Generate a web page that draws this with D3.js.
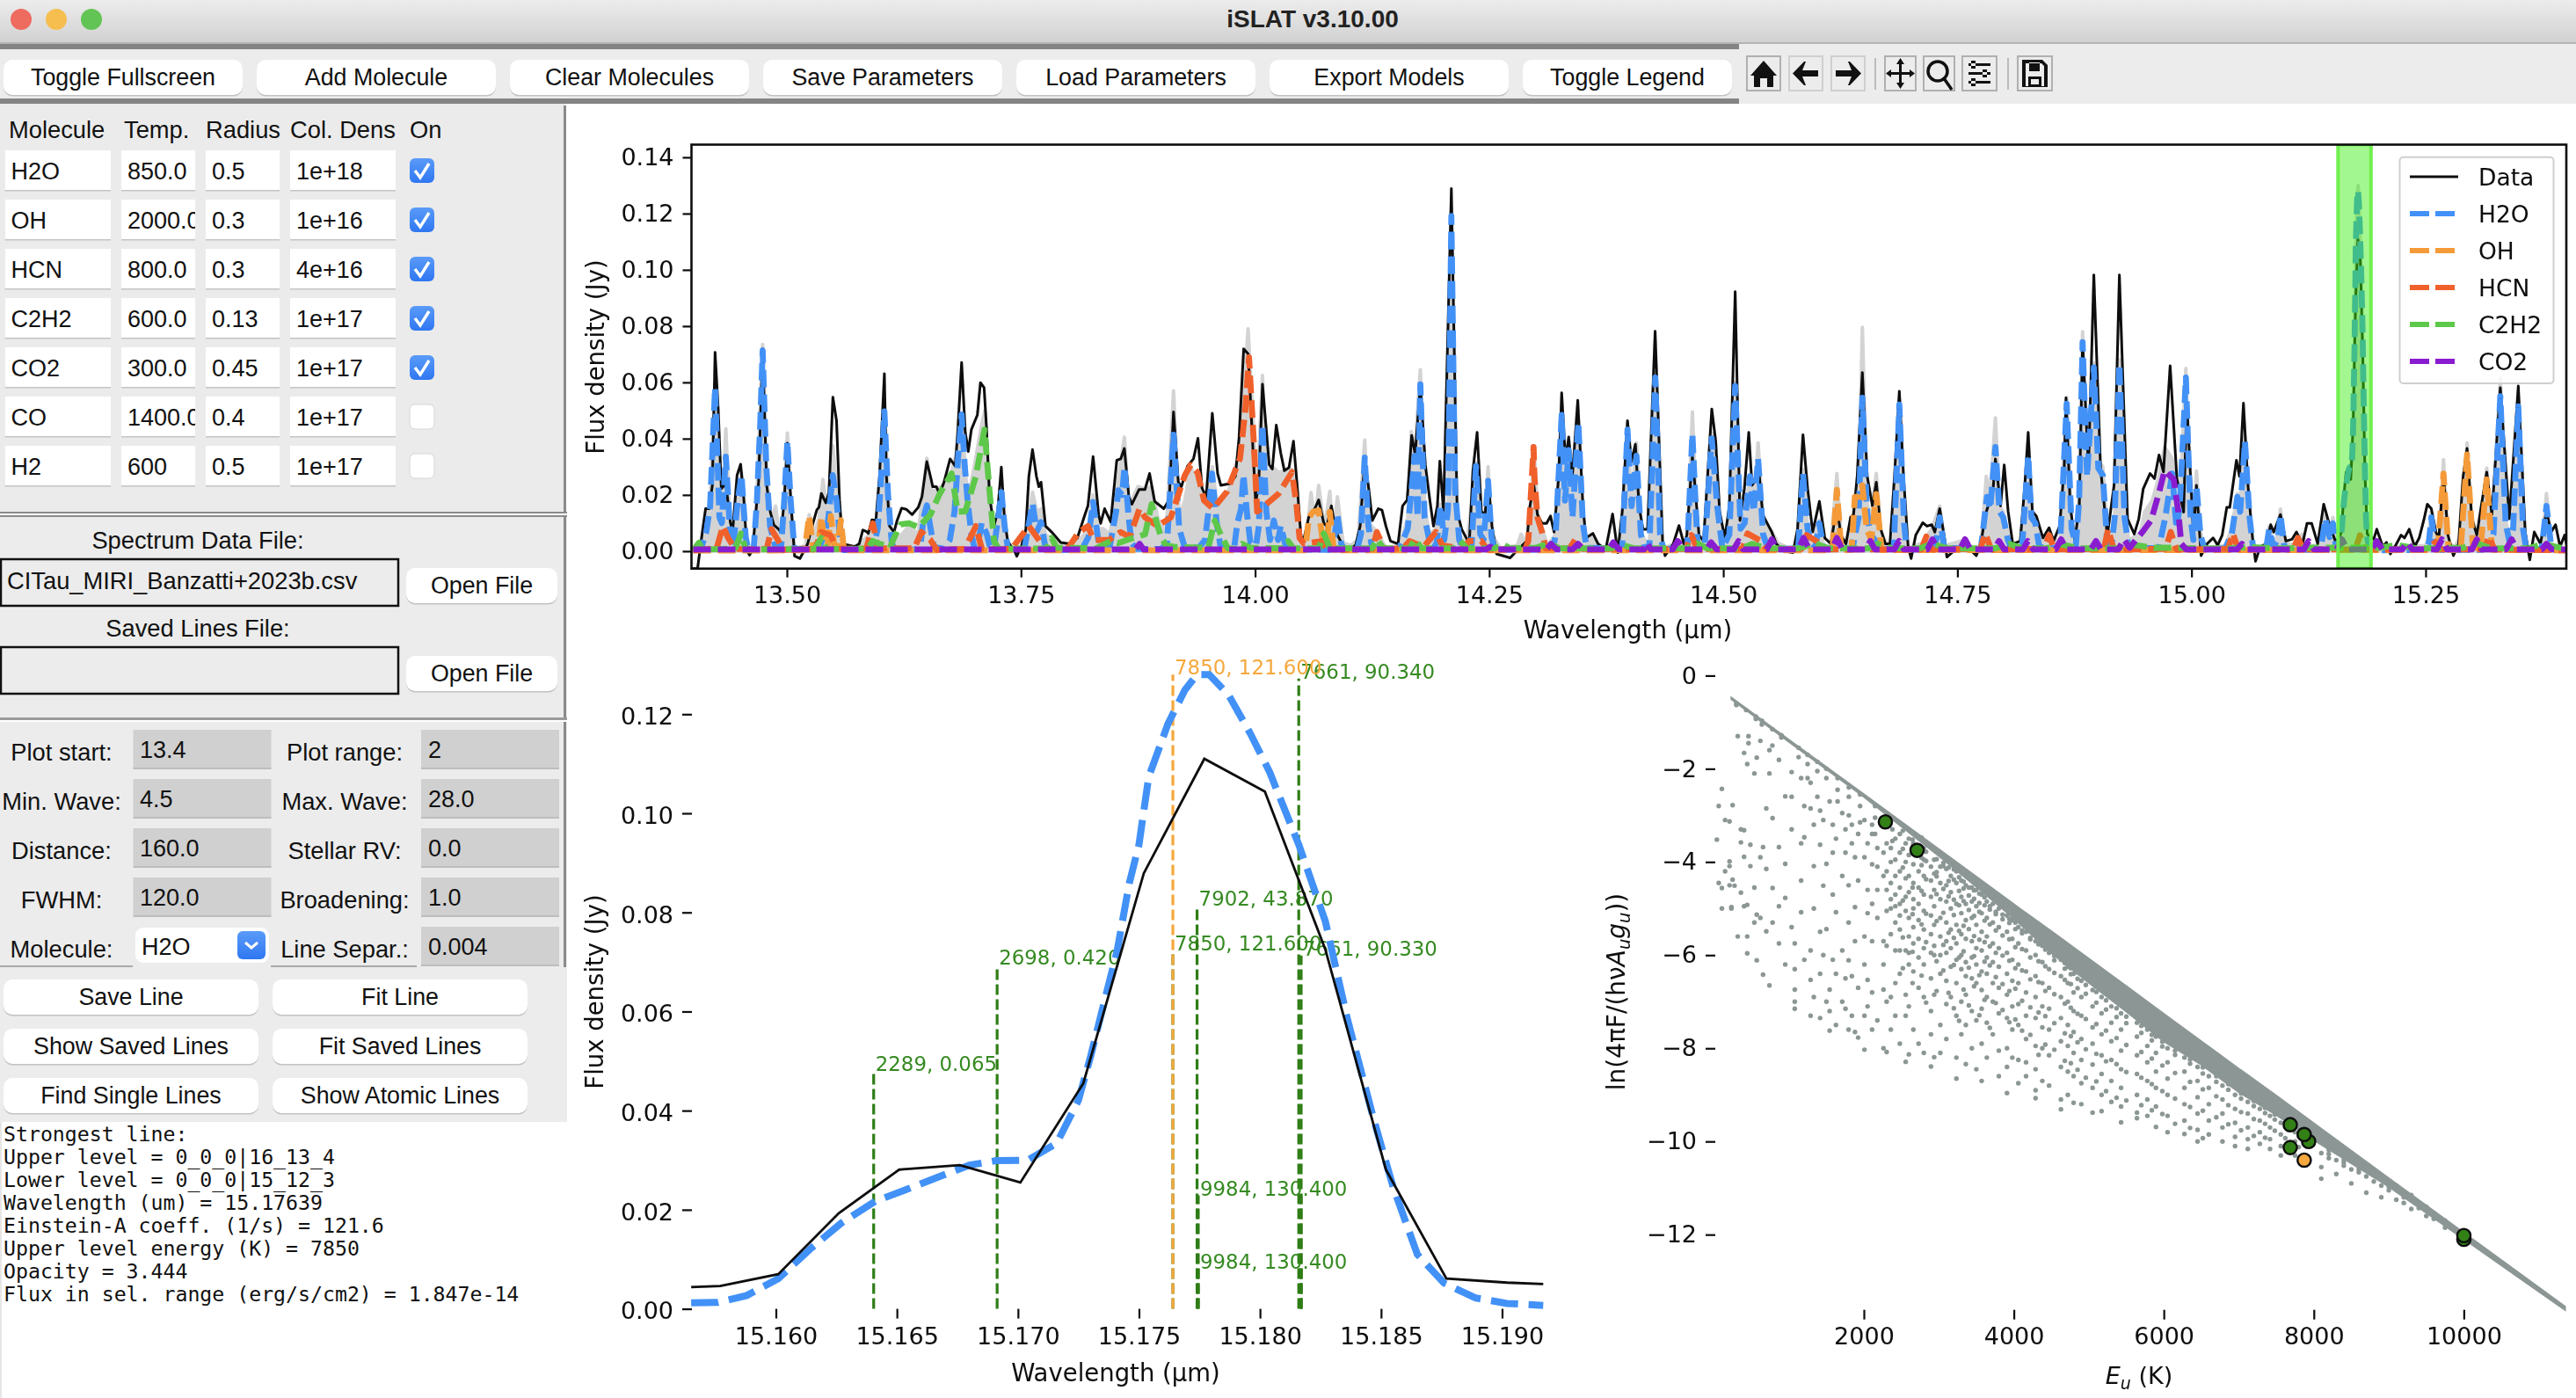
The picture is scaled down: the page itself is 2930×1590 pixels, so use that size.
<!DOCTYPE html>
<html>
<head>
<meta charset="utf-8">
<title>iSLAT v3.10.00</title>
<script src="https://cdn.jsdelivr.net/npm/d3@7"></script>
<style>
html,body{margin:0;padding:0;background:#fff;overflow:hidden}
svg{display:block}
text{white-space:pre}
</style>
</head>
<body>
<svg id="chart"></svg>
<script>
// ---------------------------- values -----------------------------------------------------------

const moleculeRows = [
  ["H2O","850.0","0.5","1e+18",true],
  ["OH","2000.0","0.3","1e+16",true],
  ["HCN","800.0","0.3","4e+16",true],
  ["C2H2","600.0","0.13","1e+17",true],
  ["CO2","300.0","0.45","1e+17",true],
  ["CO","1400.0","0.4","1e+17",false],
  ["H2","600","0.5","1e+17",false]
];
const topButtons = ["Toggle Fullscreen","Add Molecule","Clear Molecules","Save Parameters","Load Parameters","Export Models","Toggle Legend"];
const paramRows = [
  ["Plot start:","13.4","Plot range:","2"],
  ["Min. Wave:","4.5","Max. Wave:","28.0"],
  ["Distance:","160.0","Stellar RV:","0.0"],
  ["FWHM:","120.0","Broadening:","1.0"],
  ["Molecule:","H2O","Line Separ.:","0.004"]
];
const lineButtons = [["Save Line","Fit Line"],["Show Saved Lines","Fit Saved Lines"],["Find Single Lines","Show Atomic Lines"]];
const consoleLines = [
  "Strongest line:",
  "Upper level = 0_0_0|16_13_4",
  "Lower level = 0_0_0|15_12_3",
  "Wavelength (um) = 15.17639",
  "Einstein-A coeff. (1/s) = 121.6",
  "Upper level energy (K) = 7850",
  "Opacity = 3.444",
  "Flux in sel. range (erg/s/cm2) = 1.847e-14"
];

const spectrumXTicks = [13.5,13.75,14,14.25,14.5,14.75,15,15.25];
const spectrumYTicks = [0,0.02,0.04,0.06,0.08,0.1,0.12,0.14];
const zoomXTicks = [15.16,15.165,15.17,15.175,15.18,15.185,15.19];
const zoomYTicks = [0,0.02,0.04,0.06,0.08,0.1,0.12];
const popXTicks = [2000,4000,6000,8000,10000];
const popYTicks = [0,-2,-4,-6,-8,-10,-12];

const selectedRange = [15.1565,15.1917];

// selected range, the lower left plot
const zoomData = [[15.1565,.0044],[15.1577,.0046],[15.1601,.0070],[15.1626,.0193],[15.1651,.0281],[15.1676,.0290],[15.1701,.0255],[15.1727,.0455],[15.1752,.0879],[15.1777,.1110],[15.1802,.1044],[15.1827,.0725],[15.1852,.0281],[15.1877,.0061],[15.1902,.0053],[15.1917,.0050]];
const zoomModel = [[15.1565,.0012],[15.1576,.0013],[15.1588,.0027],[15.1601,.0061],[15.1614,.0120],[15.1627,.0173],[15.1641,.0217],[15.1654,.0241],[15.1667,.0266],[15.1680,.0290],[15.1691,.0299],[15.1704,.0300],[15.1716,.0334],[15.1725,.0421],[15.1730,.0509],[15.1736,.0626],[15.1741,.0723],[15.1746,.0859],[15.1750,.0937],[15.1754,.1073],[15.1762,.1181],[15.1769,.1249],[15.1774,.1280],[15.1779,.1280],[15.1787,.1239],[15.1796,.1161],[15.1804,.1083],[15.1816,.0937],[15.1827,.0782],[15.1836,.0587],[15.1847,.0382],[15.1855,.0246],[15.1865,.0110],[15.1876,.0052],[15.1889,.0022],[15.1902,.0011],[15.1917,.0007]];

// full spectrum, wavelength and flux density pairs
const dataLine = [[13.3988,-.0062],[13.4046,-.0062],[13.4094,.0061],[13.4132,.0151],[13.417,.0151],[13.4204,.0234],[13.4233,.0707],[13.4266,.0509],[13.43,.0222],[13.4348,.024],[13.4396,.0103],[13.442,.0067],[13.4468,.027],[13.4506,.0309],[13.454,.0187],[13.4573,.0001],[13.4602,-.0014],[13.4635,.0007],[13.4669,.0139],[13.4698,.0246],[13.4741,.0719],[13.4784,.0234],[13.4823,.0139],[13.4861,.0093],[13.4909,.0079],[13.4938,.0067],[13.4971,.0175],[13.5005,.0384],[13.5043,.0175],[13.5082,-.0017],[13.5139,-.0026],[13.5173,-.0005],[13.5222,.0026],[13.527,.0089],[13.5319,.0146],[13.5342,.0156],[13.5368,.0205],[13.5416,.0172],[13.5449,.0208],[13.5491,.0547],[13.553,.0464],[13.5562,.0182],[13.5594,.0026],[13.5724,.0016],[13.5772,.0026],[13.5811,.0075],[13.5847,.007],[13.587,.0063],[13.5908,.0111],[13.595,.0109],[13.5989,.0266],[13.6041,.0631],[13.6063,.0266],[13.6096,.0089],[13.6144,.0068],[13.6177,.0109],[13.6225,.0153],[13.6274,.0149],[13.6338,.013],[13.6403,.0156],[13.6442,.0193],[13.6494,.0318],[13.6533,.0266],[13.6558,.0229],[13.6597,.0229],[13.663,.0203],[13.6678,.0245],[13.6743,.0328],[13.6798,.0302],[13.6824,.0422],[13.6866,.0671],[13.6905,.0422],[13.6937,.0354],[13.697,.0432],[13.7034,.0484],[13.7067,.0599],[13.7106,.0581],[13.7131,.0443],[13.7164,.0193],[13.7212,.0089],[13.7251,.0141],[13.729,.0299],[13.7325,.0109],[13.7358,.0036],[13.7439,-.0005],[13.7455,-.0018],[13.7503,.0016],[13.7552,.0078],[13.7584,.0266],[13.7623,.0361],[13.7665,.0266],[13.7691,.0229],[13.7714,.0245],[13.7762,.0089],[13.7827,.0068],[13.7924,.0031],[13.8021,.0026],[13.8102,.0047],[13.8183,.013],[13.8215,.0161],[13.827,.0336],[13.8329,.013],[13.8351,.0099],[13.8393,.0151],[13.8458,.0104],[13.8523,.0323],[13.8565,.0328],[13.8604,.0365],[13.8652,.0193],[13.8685,.0167],[13.876,.0219],[13.8824,.0219],[13.8873,.0276],[13.8927,.0177],[13.9025,.0151],[13.9083,.0182],[13.9129,.0495],[13.918,.0245],[13.9213,.0229],[13.9278,.0302],[13.9342,.0328],[13.939,.0401],[13.9433,.0224],[13.9478,.0193],[13.9543,.049],[13.96,.0276],[13.9634,.0234],[13.9731,.024],[13.9789,.0266],[13.9828,.0401],[13.9878,.0719],[13.9926,.0701],[14.0006,.0172],[14.0038,.0234],[14.0079,.0593],[14.0151,.0307],[14.0184,.0292],[14.0226,.0448],[14.0274,.0349],[14.0313,.0286],[14.0362,.0297],[14.041,.0391],[14.0449,.0234],[14.0491,.0047],[14.0524,.0047],[14.0572,.012],[14.0637,.0151],[14.0679,.0182],[14.0734,.0099],[14.0766,.0089],[14.0815,.0161],[14.0863,.0068],[14.0928,.0026],[14.0993,.0005],[14.1074,.0021],[14.1122,.0089],[14.1171,.0328],[14.1213,.0224],[14.1252,.0109],[14.1316,.0151],[14.1355,.0146],[14.1397,.0089],[14.1446,.0036],[14.1527,.0026],[14.1575,.0161],[14.1624,.0182],[14.1672,.0411],[14.171,.0344],[14.1765,.0593],[14.1818,.0307],[14.1866,.0182],[14.1905,.0089],[14.1947,.0161],[14.1973,.032],[14.2012,.0141],[14.2096,.1289],[14.2158,.0141],[14.2206,.0078],[14.2287,.0026],[14.2326,.0286],[14.2371,.0422],[14.2417,.0141],[14.2456,.013],[14.2488,.0255],[14.253,.0089],[14.2579,-.001],[14.2643,-.0016],[14.2724,-.0024],[14.2805,.0005],[14.2902,.0036],[14.2935,.0161],[14.2977,.0234],[14.3015,.013],[14.3064,.0099],[14.3113,.0099],[14.3155,.0125],[14.3193,.0068],[14.3242,.0266],[14.3274,.0563],[14.3316,.0318],[14.3349,.0406],[14.3388,.0266],[14.3446,.0536],[14.3501,.0161],[14.3533,.0047],[14.3608,.0063],[14.3663,.0026],[14.3744,.0005],[14.3818,.0132],[14.3873,-.0005],[14.3921,.0141],[14.3977,.0464],[14.4019,.0318],[14.4061,.038],[14.41,.0161],[14.4142,.0078],[14.4191,.0078],[14.4272,.0782],[14.4353,.0026],[14.4378,-.0016],[14.4466,.0026],[14.4527,.0091],[14.4579,.0026],[14.4611,.0057],[14.467,.0339],[14.4741,.0057],[14.4789,.0036],[14.4832,.0266],[14.4877,.0505],[14.4919,.0391],[14.4961,.0141],[14.5016,.0047],[14.5065,.0161],[14.5127,.0922],[14.5178,.0109],[14.5226,.0224],[14.5272,.0422],[14.5307,.0234],[14.533,.0245],[14.5372,.0318],[14.5421,.013],[14.5469,.0099],[14.5518,.0068],[14.5566,.0026],[14.5647,0],[14.5744,-.0005],[14.5793,.0078],[14.5851,.0414],[14.59,.0224],[14.5955,.0068],[14.6026,.0177],[14.6084,.0047],[14.6149,.0026],[14.6213,.0161],[14.6255,.0057],[14.631,.0026],[14.6359,.012],[14.6391,.013],[14.643,.0266],[14.6485,.0635],[14.6537,.0266],[14.6592,.0161],[14.6634,.0245],[14.6682,.0078],[14.6731,.0026],[14.678,.0026],[14.6828,.0266],[14.688,.0568],[14.6925,.0266],[14.6974,.0016],[14.7006,-.0026],[14.7055,.0057],[14.713,.0101],[14.7175,.0089],[14.7226,.0094],[14.7259,.0068],[14.7311,.0151],[14.7362,.0047],[14.7388,-.0021],[14.7459,0],[14.7556,.0016],[14.7653,0],[14.7702,-.0016],[14.7751,.0026],[14.7799,.013],[14.788,.0214],[14.7906,.0328],[14.7961,.0161],[14.8,.0307],[14.8042,.0141],[14.8091,.0026],[14.8171,.0036],[14.822,.0234],[14.8256,.0422],[14.8301,.0141],[14.8343,.0125],[14.8414,.0047],[14.8479,.0083],[14.8527,.0036],[14.8592,.0089],[14.8641,.0297],[14.866,.0545],[14.8705,.0161],[14.8754,.0036],[14.8802,.0161],[14.8837,.0743],[14.89,.0294],[14.8957,.0982],[14.9029,.0294],[14.9101,.0055],[14.9173,.0234],[14.923,.0982],[14.9317,.0115],[14.9389,.0061],[14.9437,.0115],[14.9485,.0222],[14.9557,.0276],[14.9605,.0258],[14.9653,.0342],[14.9701,.0282],[14.9772,.0659],[14.9844,.0258],[14.9916,.0139],[14.995,.053],[15.0022,.0055],[15.0053,.0234],[15.0102,-.0016],[15.0166,.0026],[15.0231,.0047],[15.028,.0021],[15.0328,.0057],[15.0377,.0156],[15.0409,.0156],[15.048,.0323],[15.0513,.0266],[15.0555,.0526],[15.0603,.0234],[15.0652,.0047],[15.0684,-.0036],[15.0733,.0016],[15.0798,.0026],[15.0846,.0094],[15.0878,.0068],[15.095,.013],[15.1008,.0036],[15.1073,.0042],[15.1121,.0068],[15.1186,.0026],[15.1234,.0099],[15.1283,.0099],[15.1348,.0026],[15.1412,.0167],[15.1477,.0089],[15.1542,.0031],...zoomData,[15.1946,.0042],[15.1979,.0078],[15.2043,.0016],[15.2082,.0031],[15.2124,-.001],[15.2173,.0016],[15.2238,.0057],[15.2275,.0047],[15.2325,.0078],[15.2383,.0016],[15.2432,.0047],[15.248,.0109],[15.2519,.0167],[15.2561,.0151],[15.261,.0068],[15.2642,.0047],[15.2691,.0276],[15.2739,.0057],[15.2797,-.0016],[15.2852,.0026],[15.2901,.0266],[15.2943,.0365],[15.2992,.012],[15.3047,.0057],[15.3095,.0161],[15.3153,.0281],[15.3208,.013],[15.3298,.0581],[15.3394,.0115],[15.349,.0587],[15.3564,.0068],[15.3613,-.0031],[15.3661,.0068],[15.3726,.0026],[15.3791,.0141],[15.384,.0068],[15.3888,.0094],[15.3936,.0016],[15.3985,.0057],[15.401,.0016]];

const totalLine = [[13.398,.0005],[13.408,.003],[13.414,.01],[13.418,.018],[13.4233,.06],[13.428,.014],[13.431,.014],[13.4348,.0435],[13.4395,.007],[13.443,.006],[13.4475,.018],[13.4515,.028],[13.456,.005],[13.46,.001],[13.465,.002],[13.468,.02],[13.4741,.0735],[13.478,.032],[13.482,.012],[13.485,.013],[13.488,.016],[13.492,.005],[13.495,.004],[13.5005,.042],[13.504,.018],[13.508,.001],[13.52,.002],[13.5238,.013],[13.529,.006],[13.5345,.012],[13.5385,.0255],[13.543,.013],[13.549,.0375],[13.553,.022],[13.5575,.012],[13.561,.001],[13.575,.002],[13.592,.007],[13.597,.01],[13.6,.022],[13.6041,.053],[13.608,.022],[13.612,.006],[13.618,.004],[13.6305,.009],[13.64,.006],[13.6495,.033],[13.655,.021],[13.665,.023],[13.6759,.0285],[13.682,.036],[13.6866,.049],[13.69,.032],[13.693,.018],[13.7,.03],[13.708,.045],[13.7115,.05],[13.716,.024],[13.7215,.004],[13.726,.013],[13.7291,.022],[13.7325,.009],[13.737,.0012],[13.753,.0015],[13.757,.009],[13.7623,.021],[13.767,.014],[13.7714,.015],[13.776,.006],[13.785,.0035],[13.8,.002],[13.815,.005],[13.822,.008],[13.827,.02],[13.8325,.008],[13.838,.008],[13.845,.006],[13.8515,.02],[13.8604,.0405],[13.865,.016],[13.875,.023],[13.883,.022],[13.8895,.023],[13.896,.012],[13.905,.006],[13.9129,.057],[13.919,.012],[13.925,.018],[13.931,.03],[13.94,.024],[13.948,.018],[13.9543,.03],[13.96,.015],[13.972,.022],[13.9839,.036],[13.9925,.079],[13.9985,.043],[14.002,.02],[14.0079,.0625],[14.012,.027],[14.0184,.03],[14.0248,.028],[14.0394,.029],[14.0445,.018],[14.048,.006],[14.055,.005],[14.0598,.0208],[14.064,.01],[14.0679,.0234],[14.074,.008],[14.0798,.0213],[14.0835,.006],[14.0879,.0193],[14.094,.003],[14.102,.002],[14.11,.004],[14.1171,.0395],[14.121,.01],[14.13,.007],[14.14,.001],[14.1527,.002],[14.158,.006],[14.163,.012],[14.1668,.0425],[14.1705,.0345],[14.1765,.0645],[14.181,.016],[14.186,.006],[14.193,.008],[14.198,.0166],[14.202,.005],[14.206,.016],[14.2096,.122],[14.2135,.024],[14.218,.006],[14.226,.002],[14.2359,.0315],[14.2405,.007],[14.2445,.005],[14.2488,.03],[14.253,.006],[14.262,.001],[14.28,.002],[14.284,.006],[14.29,.003],[14.2935,.009],[14.2977,.037],[14.302,.013],[14.306,.009],[14.312,.002],[14.321,.006],[14.3274,.0495],[14.331,.02],[14.3349,.038],[14.339,.013],[14.3452,.047],[14.35,.011],[14.354,.003],[14.3595,.006],[14.367,.001],[14.375,.001],[14.392,.002],[14.3977,.044],[14.402,.017],[14.4073,.0385],[14.412,.006],[14.421,.002],[14.4274,.0635],[14.4325,.007],[14.436,.001],[14.45,.003],[14.4615,.003],[14.467,.0495],[14.4725,.004],[14.48,.002],[14.4877,.042],[14.4935,.018],[14.499,.003],[14.5065,.007],[14.5127,.06],[14.5185,.01],[14.5228,.012],[14.5285,.027],[14.5325,.016],[14.5372,.0385],[14.5425,.01],[14.55,.008],[14.558,.003],[14.57,.001],[14.58,.002],[14.5851,.029],[14.59,.009],[14.595,.002],[14.6026,.011],[14.607,.002],[14.615,.002],[14.6213,.0276],[14.626,.004],[14.634,.004],[14.6395,.015],[14.6445,.018],[14.6485,.0796],[14.6535,.018],[14.657,.01],[14.6634,.0276],[14.668,.007],[14.675,.002],[14.682,.002],[14.688,.054],[14.693,.011],[14.697,.001],[14.713,.003],[14.7226,.008],[14.7311,.016],[14.737,.002],[14.758,.004],[14.764,.001],[14.775,.001],[14.7809,.0266],[14.785,.02],[14.7906,.0474],[14.795,.016],[14.799,.014],[14.804,.006],[14.81,.001],[14.819,.002],[14.8256,.035],[14.829,.013],[14.8333,.012],[14.8375,.004],[14.848,.006],[14.8595,.003],[14.8667,.0547],[14.872,.009],[14.8765,.005],[14.88,.02],[14.8837,.078],[14.8885,.03],[14.8957,.067],[14.9005,.032],[14.9053,.03],[14.91,.008],[14.915,.006],[14.918,.013],[14.923,.068],[14.9285,.014],[14.933,.004],[14.945,.006],[14.95,.014],[14.958,.018],[14.9649,.026],[14.9713,.037],[14.9794,.033],[14.984,.018],[14.9875,.018],[14.994,.065],[14.999,.014],[15.002,.005],[15.0053,.0285],[15.0095,.007],[15.014,.001],[15.036,.002],[15.043,.008],[15.049,.0205],[15.052,.017],[15.0571,.041],[15.062,.013],[15.066,.001],[15.0795,.001],[15.083,.0088],[15.0875,.002],[15.092,.006],[15.095,.015],[15.099,.003],[15.112,.002],[15.118,.006],[15.123,.002],[15.138,.002],[15.1429,.013],[15.1475,.007],[15.151,.012],[15.1542,.004],[15.1565,.0015],[15.1601,.0068],[15.1641,.022],[15.168,.0292],[15.1704,.0302],[15.1725,.0423],[15.1741,.0725],[15.1754,.1075],[15.1769,.1255],[15.1779,.130],[15.1796,.1168],[15.1816,.094],[15.1836,.059],[15.1855,.0248],[15.1876,.0054],[15.1917,.001],[15.2,.001],[15.25,.002],[15.2535,.005],[15.2561,.014],[15.2595,.006],[15.2645,.002],[15.2691,.0325],[15.274,.004],[15.28,.001],[15.2885,.006],[15.2943,.0385],[15.3,.007],[15.3065,.001],[15.3153,.0295],[15.3208,.008],[15.3298,.0615],[15.3355,.011],[15.3395,.004],[15.3435,.009],[15.349,.0535],[15.354,.009],[15.3575,.001],[15.374,.001],[15.3791,.0205],[15.384,.003],[15.39,.001],[15.402,.0005]];

const h2oLine = [[13.4,.0003],[13.408,.0005],[13.414,.007],[13.418,.016],[13.4233,.0581],[13.428,.012],[13.4305,.01],[13.4348,.0336],[13.4395,.006],[13.4425,.0012],[13.4475,.018],[13.4515,.027],[13.456,.005],[13.459,.0003],[13.4645,.0006],[13.468,.018],[13.4715,.045],[13.4741,.0713],[13.478,.03],[13.482,.009],[13.488,.001],[13.494,.002],[13.4975,.02],[13.5005,.039],[13.504,.018],[13.508,.0008],[13.53,.0006],[13.535,.0015],[13.539,.005],[13.544,.011],[13.549,.027],[13.553,.018],[13.557,.004],[13.561,.0004],[13.592,.0006],[13.597,.008],[13.6,.022],[13.6041,.0497],[13.608,.02],[13.612,.003],[13.615,.0005],[13.638,.0006],[13.643,.003],[13.646,.012],[13.6495,.0163],[13.653,.009],[13.657,.0015],[13.668,.0008],[13.674,.004],[13.679,.014],[13.683,.034],[13.6866,.0486],[13.69,.03],[13.693,.018],[13.697,.006],[13.7,.0015],[13.7035,.0015],[13.708,.01],[13.7135,.006],[13.7165,.002],[13.7215,.002],[13.726,.013],[13.7291,.021],[13.7325,.009],[13.736,.0008],[13.7535,.0006],[13.757,.007],[13.7623,.0169],[13.767,.007],[13.7714,.0103],[13.776,.0015],[13.782,.0004],[13.815,.0006],[13.822,.005],[13.827,.0175],[13.8325,.004],[13.838,.002],[13.845,.002],[13.8515,.014],[13.854,.0216],[13.858,.02],[13.8605,.03],[13.865,.012],[13.868,.003],[13.873,.0008],[13.9,.0008],[13.906,.003],[13.9129,.0414],[13.919,.008],[13.925,.0012],[13.94,.0012],[13.9465,.004],[13.9505,.015],[13.954,.0276],[13.959,.01],[13.9635,.0008],[13.978,.002],[13.981,.01],[13.985,.015],[13.9876,.0271],[13.9915,.013],[13.995,.003],[14.001,.002],[14.004,.0089],[14.0079,.045],[14.012,.014],[14.016,.004],[14.02,.0109],[14.0245,.004],[14.0275,.009],[14.033,.0012],[14.038,.0006],[14.08,.0005],[14.084,.003],[14.0879,.013],[14.092,.0025],[14.096,.0004],[14.109,.0006],[14.113,.006],[14.1171,.0333],[14.121,.009],[14.125,.001],[14.153,.0006],[14.158,.004],[14.163,.008],[14.1705,.0339],[14.1735,.012],[14.1765,.0593],[14.181,.012],[14.186,.004],[14.19,.0008],[14.194,.003],[14.198,.0161],[14.202,.004],[14.206,.015],[14.2096,.1191],[14.2135,.022],[14.218,.004],[14.222,.0008],[14.231,.001],[14.2359,.0302],[14.2405,.006],[14.244,.004],[14.2488,.025],[14.2525,.005],[14.256,.0005],[14.318,.0006],[14.321,.006],[14.3274,.0484],[14.331,.018],[14.3349,.0359],[14.339,.012],[14.3452,.0458],[14.35,.01],[14.354,.0012],[14.392,.001],[14.3977,.0432],[14.402,.016],[14.4073,.0339],[14.412,.006],[14.416,.0008],[14.421,.001],[14.4274,.0617],[14.4325,.006],[14.436,.0008],[14.4615,.001],[14.467,.0417],[14.4725,.002],[14.48,.001],[14.4877,.0401],[14.4935,.016],[14.499,.001],[14.5065,.006],[14.5127,.0587],[14.5185,.008],[14.5228,.01],[14.5285,.0266],[14.5325,.014],[14.5372,.0328],[14.5425,.006],[14.548,.0006],[14.58,.001],[14.5851,.0276],[14.59,.008],[14.595,.001],[14.5985,.002],[14.6026,.0099],[14.607,.001],[14.638,.001],[14.6445,.012],[14.6485,.0545],[14.6535,.014],[14.657,.006],[14.662,.004],[14.667,.0006],[14.682,.001],[14.688,.0521],[14.693,.01],[14.696,.0006],[14.722,.0006],[14.7275,.004],[14.7311,.012],[14.736,.0012],[14.775,.0008],[14.7816,.0193],[14.785,.015],[14.7906,.037],[14.795,.014],[14.799,.012],[14.804,.004],[14.808,.0006],[14.819,.001],[14.8256,.0339],[14.829,.012],[14.8333,.0099],[14.8375,.0015],[14.8595,.001],[14.8667,.0524],[14.872,.008],[14.8765,.002],[14.88,.018],[14.8837,.0743],[14.8885,.0266],[14.8957,.0653],[14.9005,.0295],[14.9053,.027],[14.91,.003],[14.915,.003],[14.918,.012],[14.923,.0665],[14.9285,.012],[14.933,.0012],[14.965,.001],[14.972,.012],[14.9794,.0276],[14.984,.008],[14.9875,.016],[14.994,.0617],[14.999,.012],[15.002,.004],[15.0053,.0234],[15.0095,.006],[15.014,.0006],[15.036,.001],[15.043,.006],[15.049,.0193],[15.052,.014],[15.0571,.039],[15.062,.012],[15.066,.0006],[15.0795,.0006],[15.083,.0078],[15.0875,.0015],[15.092,.004],[15.095,.013],[15.099,.002],[15.103,.0004],[15.138,.0006],[15.1429,.0115],[15.1475,.005],[15.151,.0099],[15.1542,.0015],...zoomModel,[15.2,.0003],[15.25,.0005],[15.2535,.003],[15.2561,.012],[15.2595,.004],[15.265,.0005],[15.31,.0005],[15.3155,.002],[15.3225,.006],[15.3298,.0551],[15.3355,.01],[15.3395,.0035],[15.3435,.008],[15.349,.0515],[15.354,.008],[15.3575,.0008],[15.374,.0008],[15.3791,.0161],[15.384,.002],[15.3885,.0004],[15.402,.0003]];

const ohLine = [[13.4,.0002],[13.519,.0003],[13.5238,.0125],[13.528,.0005],[13.533,.0008],[13.537,.012],[13.5405,.002],[13.5435,.002],[13.547,.0125],[13.5505,.002],[13.554,.002],[13.5577,.011],[13.561,.0003],[14.0535,.0003],[14.0575,.012],[14.062,.014],[14.0679,.0145],[14.072,.004],[14.0765,.003],[14.0798,.014],[14.084,.0003],[14.6165,.0003],[14.6213,.0218],[14.626,.0005],[14.637,.0005],[14.6405,.0193],[14.6445,.0193],[14.6485,.0234],[14.653,.008],[14.658,.004],[14.6634,.0203],[14.669,.0004],[15.263,.0004],[15.2691,.0276],[15.2745,.0005],[15.2875,.0005],[15.2943,.0344],[15.3005,.002],[15.3085,.0005],[15.3153,.0255],[15.321,.0005],[15.402,.0003]];

const hcnLine = [[13.4,.0003],[13.425,.001],[13.4316,.0089],[13.4375,.0045],[13.445,.0008],[13.4785,.0008],[13.4834,.0078],[13.4895,.0045],[13.496,.0005],[13.53,.0007],[13.5368,.0068],[13.5465,.0057],[13.5535,.0008],[13.585,.001],[13.5918,.0099],[13.597,.001],[13.636,.001],[13.6436,.0068],[13.6533,.004],[13.66,.0005],[13.69,.0008],[13.7018,.0089],[13.708,.001],[13.7235,.0008],[13.74,.0008],[13.7584,.0089],[13.768,.0045],[13.775,.0008],[13.80,.001],[13.8118,.0068],[13.8215,.0089],[13.8275,.004],[13.8442,.004],[13.8565,.0068],[13.866,.005],[13.8766,.0151],[13.8825,.012],[13.896,.0089],[13.91,.012],[13.925,.027],[13.9312,.0306],[13.9385,.028],[13.9455,.018],[13.9552,.0151],[13.9696,.021],[13.9839,.033],[13.9895,.05],[13.9935,.0689],[13.9982,.0414],[14.0022,.0141],[14.0119,.0167],[14.0248,.0203],[14.0394,.0281],[14.0443,.0161],[14.0475,.0047],[14.0524,.0026],[14.0715,.0036],[14.077,.0005],[14.1255,.0008],[14.13,.0068],[14.138,.0008],[14.158,.001],[14.165,.0036],[14.18,.0015],[14.1931,.0068],[14.2,.002],[14.222,.001],[14.2285,.0036],[14.2417,.0036],[14.248,.0005],[14.2885,.0008],[14.2918,.0036],[14.2945,.02],[14.2974,.037],[14.2983,.0266],[14.3015,.012],[14.3064,.0068],[14.3105,.001],[14.336,.001],[14.342,.0042],[14.349,.0008],[14.46,.0008],[14.466,.0057],[14.472,.0008],[14.5205,.0008],[14.5259,.0063],[14.5404,.0036],[14.5465,.0008],[14.5835,.0008],[14.589,.0057],[14.5995,.0036],[14.606,.0006],[14.7115,.0006],[14.7168,.0052],[14.7225,.0006],[14.7745,.0008],[14.7799,.0063],[14.786,.0006],[14.8425,.0008],[14.8479,.0057],[14.8535,.0006],[14.9065,.0008],[14.911,.0078],[14.917,.0006],[14.9725,.0008],[14.9778,.0068],[14.984,.0006],[15.039,.0008],[15.0442,.0063],[15.05,.0006],[15.1085,.0006],[15.1137,.0047],[15.1195,.0006],[15.175,.0006],[15.18,.0057],[15.186,.0006],[15.25,.0006],[15.2605,.0032],[15.2665,.0006],[15.3125,.0006],[15.3176,.0052],[15.3235,.0006],[15.402,.0003]];

const c2h2Line = [[13.4,.0003],[13.406,.003],[13.41,.0005],[13.445,.001],[13.451,.0063],[13.456,.0006],[13.53,.0008],[13.5368,.0047],[13.542,.0007],[13.586,.0009],[13.5918,.0036],[13.6,.0025],[13.606,.002],[13.61,.0012],[13.6144,.0047],[13.6215,.0095],[13.6306,.0099],[13.6405,.0085],[13.6533,.013],[13.663,.0203],[13.6759,.0276],[13.6824,.0141],[13.6905,.0141],[13.7018,.0266],[13.711,.0432],[13.7164,.0214],[13.7212,.0036],[13.726,.0008],[13.7775,.001],[13.7827,.0047],[13.788,.0012],[13.83,.001],[13.8455,.0036],[13.8535,.0028],[13.865,.0042],[13.8825,.006],[13.8895,.0167],[13.896,.0089],[13.9,.0047],[13.905,.002],[13.915,.0015],[13.95,.0012],[13.9569,.0109],[13.965,.0047],[13.971,.001],[13.98,.0008],[13.986,.0026],[13.995,.0012],[14.03,.001],[14.0352,.0036],[14.041,.001],[14.068,.001],[14.0734,.0063],[14.08,.001],[14.125,.001],[14.1305,.0042],[14.137,.001],[14.165,.001],[14.1705,.0042],[14.178,.001],[14.213,.001],[14.2193,.0036],[14.226,.001],[14.256,.001],[14.2643,.0026],[14.272,.001],[14.3,.0012],[14.3135,.0028],[14.325,.001],[14.38,.001],[14.3925,.0022],[14.405,.001],[14.46,.001],[14.472,.0028],[14.483,.001],[14.52,.001],[14.5306,.0026],[14.546,.001],[14.58,.001],[14.598,.0028],[14.612,.001],[14.655,.001],[14.665,.0026],[14.68,.001],[14.71,.001],[14.723,.0026],[14.74,.001],[14.79,.001],[14.805,.0026],[14.82,.001],[14.845,.001],[14.861,.0024],[14.88,.001],[14.92,.001],[14.935,.0024],[14.96,.0012],[14.98,.0012],[15.01,.001],[15.04,.001],[15.06,.0015],[15.09,.001],[15.13,.0012],[15.16,.0012],[15.2,.0012],[15.22,.0022],[15.24,.001],[15.29,.0012],[15.305,.0028],[15.32,.001],[15.36,.001],[15.375,.0026],[15.402,.0006]];

const co2Line = [[13.4,.0006],[13.872,.0006],[13.8766,.0026],[13.881,.0006],[14.2465,.0006],[14.2514,.0016],[14.256,.0006],[14.2635,.0006],[14.27,.0006],[14.311,.0006],[14.3161,.0026],[14.322,.0006],[14.339,.0006],[14.3448,.0026],[14.351,.0006],[14.3775,.0006],[14.3825,.0031],[14.3885,.0006],[14.4155,.0006],[14.4185,.0031],[14.4225,.0006],[14.446,.0006],[14.4514,.0036],[14.457,.0006],[14.482,.0006],[14.487,.0031],[14.493,.0006],[14.511,.0006],[14.5162,.0036],[14.5215,.0006],[14.5465,.0006],[14.5518,.0042],[14.557,.0006],[14.58,.0006],[14.5857,.0047],[14.592,.0006],[14.616,.0006],[14.6213,.0047],[14.627,.0006],[14.652,.0006],[14.657,.0036],[14.662,.0006],[14.6825,.0006],[14.6877,.0036],[14.693,.0006],[14.718,.0006],[14.7233,.0042],[14.729,.0006],[14.7525,.0006],[14.7582,.0042],[14.764,.0006],[14.789,.0006],[14.7945,.0036],[14.8,.0006],[14.82,.0006],[14.8252,.0036],[14.831,.0006],[14.855,.0006],[14.8608,.0042],[14.8665,.0006],[14.8925,.0006],[14.898,.0036],[14.9035,.0006],[14.922,.0006],[14.9277,.0042],[14.934,.0012],[14.9487,.0073],[14.9568,.0109],[14.9649,.0203],[14.9713,.0286],[14.981,.0255],[14.9859,.0141],[14.9891,.0026],[14.9945,.0006],[15.0485,.0006],[15.0539,.0026],[15.059,.0006],[15.12,.0006],[15.1251,.0036],[15.131,.0006],[15.155,.0006],[15.1607,.0042],[15.1665,.0006],[15.1925,.0006],[15.1979,.0036],[15.204,.0006],[15.225,.0006],[15.2303,.0031],[15.236,.0006],[15.262,.0006],[15.2675,.0042],[15.273,.0006],[15.2995,.0006],[15.3047,.0042],[15.31,.0006],[15.336,.0006],[15.3419,.0042],[15.3475,.0006],[15.374,.0006],[15.3791,.0026],[15.385,.0006],[15.402,.0006]];

const legendNames = ["Data","H2O","OH","HCN","C2H2","CO2"];
const legendColors = ["#111111","#4291f7","#f59a38","#f0602b","#5dc848","#8a1fd0"];

// dashed marker lines in the selected range: wavelength, top of the line, label
const lineWave = [15.16404,15.16914,15.1764,15.1774,15.1816,15.1817,15.17745,15.17745,15.1817,15.1817];
const lineTop = [.0480,.0694,.0723,.0813,.1272,.0713,.0229,.0081,.0229,.0081];
const lineLabel = ["2289, 0.065","2698, 0.420","7850, 121.600","7902, 43.870","7661, 90.340","7661, 90.330","9984, 130.400","9984, 130.400","",""];
const orangeWave = 15.1764;
const orangeTop = .128;
const orangeLabel = "7850, 121.600";

// upper edge and lower edge of the solid band in the population diagram
const bandEu = [240,1000,2000,3000,3500,4000,4500,5000,5500,6000,6500,7000,7500,8000,9000,10000,11344];
const bandTop = [-.49,-1.39,-2.56,-3.74,-4.33,-4.92,-5.5,-6.09,-6.68,-7.27,-7.86,-8.45,-9.03,-9.62,-10.8,-11.97,-13.55];
const bandBottom = [-.5,-1.41,-2.59,-3.86,-4.52,-5.2,-5.94,-6.58,-7.2,-7.84,-8.34,-8.93,-9.42,-9.96,-10.96,-12.08,-13.6];

// grey lines below the band: one energy and the ln values seen in that column
const grayColumns = [
[40,[-3.52]],[65,[-2.8,-4.45]],[107,[-2.43,-4.56,-5.0]],[150,[-3.1,-4.2]],[209,[-3.13,-3.99,-4.09,-4.5]],[234,[-4.97,-5.0]],[250,[-2.78,-4.38]],[276,[-4.51]],[319,[-1.3,-5.6]],[361,[-3.58,-4.66,-3.3]],[403,[-1.66,-3.32,-3.89,-4.95]],[445,[-4.92,-5.6,-5.96,-1.9]],[462,[-1.3,-1.45]],[487,[-3.63,-4.09]],[540,[-2.1,-4.55,-5.3]],[572,[-1.76,-5.13,-6.11]],[620,[-1.4,-3.9,-5.2]],[656,[-3.68,-6.42]],[699,[-2.85,-4.15,-5.49]],[741,[-1.6,-6.65,-2.1]],[783,[-3.06,-4.56,-5.3]],[868,[-1.81,-3.68,-5.75,-4.95]],[952,[-2.59,-4.04,-4.77,-6.2]],[1037,[-2.07,-2.6,-3.3,-5.4]],[1079,[-5.75,-6.74,-7.15,-7.0,-6.3]],[1164,[-5.08,-2.2,-3.6,-4.4]],[1206,[-2.8,-3.47,-6.1]],[1290,[-2.85,-5.9,-6.53,-7.3,-2.3]],[1333,[-4.09,-5.0,-6.9,-3.2]],[1417,[-3.63,-2.9,-5.5,-6.4,-7.35]],[1459,[-4.51,-3.1,-6.0]],[1501,[-4.04,-5.44,-7.0]],[1544,[-6.74,-7.2,-7.62,-2.7]],[1586,[-3.8,-4.7,-6.1,-3.2]],[1628,[-5.08,-3.5,-6.4,-7.5]],[1712,[-5.9,-4.3,-2.95,-7.0]],[1755,[-3.8,-7.15,-6.5,-3.3]],[1797,[-6.11,-4.5,-5.3,-7.6]],[1840,[-3.2,-3.6,-6.45,-7.3]],[1882,[-4.97,-3.9,-5.7,-7.65]],[1924,[-7.77,-4.4,-6.7,-3.4]],[2008,[-5.6,-8.03,-3.9,-6.2,-3.1,-7.3]],[2050,[-6.53,-4.6,-3.6,-5.1,-7.1]],[2110,[-4.05,-4.9,-5.7,-6.8,-7.6,-3.2,-3.4]],[2180,[-3.7,-4.1,-4.6,-5.2,-7.4]],[2262,[-6.74,-3.8,-4.3,-5.7,-6.2,-8.0]],[2304,[-8.08,-3.6,-4.2,-4.6,-5.05,-5.8,-7.0]],[2360,[-3.7,-4.0,-4.45,-4.8,-5.0,-5.55,-6.9,-7.6]],[2420,[-3.5,-3.95,-4.3,-4.7,-4.95,-5.3,-5.9,-6.6,-7.3]],[2480,[-3.4,-3.8,-4.2,-4.55,-4.9,-5.15,-5.45,-5.9,-6.4,-7.9]],[2558,[-8.29,-3.6,-4.0,-4.35,-4.75,-5.05,-5.9,-6.85,-7.3]],[2600,[-8.13,-3.5,-3.85,-4.3,-4.65,-5.2,-5.6,-5.95,-6.2,-7.1]],[2660,[-3.6,-4.05,-4.45,-4.8,-5.0,-5.4,-5.75,-6.35,-7.6]],[2730,[-3.85,-4.2,-4.55,-4.9,-5.25,-5.65,-6.05,-6.7,-7.9]],[2800,[-3.7,-3.95,-4.3,-4.7,-5.05,-5.45,-5.85,-6.2,-6.9,-8.1]],[2895,[-8.39,-4.1,-4.4,-4.75,-5.15,-5.55,-5.95,-6.5,-7.2,-7.7]],[2938,[-8.19,-3.95,-4.25,-4.6,-4.95,-5.35,-5.8,-6.0,-6.85]],[3020,[-4.1,-4.45,-4.8,-5.2,-5.6,-6.0,-6.4,-7.5,-8.1]],[3100,[-4.15,-4.5,-4.85,-5.3,-5.7,-5.95,-6.55,-7.05,-7.8]],[3160,[-4.3,-4.65,-5.0,-5.45,-5.85,-6.25,-6.9]],[3234,[-8.65,-4.2,-4.45,-4.9,-5.35,-5.75,-6.1,-6.6,-7.3,-8.2]],[3300,[-4.4,-4.75,-5.1,-5.55,-6.0,-6.3,-7.0,-7.7]],[3360,[-8.34,-4.5,-4.9,-5.25,-5.65,-6.15,-6.45,-6.85,-7.5]],[3440,[-4.55,-4.85,-5.2,-5.7,-6.05,-6.5,-7.2,-8.0]],[3500,[-4.6,-4.95,-5.35,-5.85,-6.2,-6.6,-7.4,-8.45]],[3571,[-8.7,-4.7,-5.1,-5.5,-5.9,-6.35,-6.75,-7.15,-7.9]],[3640,[-4.85,-5.2,-5.6,-6.05,-6.4,-6.9,-7.45,-8.2]],[3720,[-4.9,-5.3,-5.75,-6.15,-6.6,-7.0,-7.7]],[3800,[-5.0,-5.4,-5.85,-6.25,-6.7,-7.25,-8.05,-8.6]],[3909,[-8.96,-5.15,-5.5,-5.95,-6.4,-6.85,-7.35,-8.0,-8.4]],[3980,[-5.25,-5.65,-6.1,-6.55,-7.1,-7.6,-8.2]],[4060,[-5.4,-5.75,-6.2,-6.6,-7.05,-7.5,-8.25,-8.75]],[4163,[-8.6,-5.5,-5.9,-6.35,-6.8,-7.3,-7.8,-8.3]],[4290,[-9.07,-8.9,-5.7,-6.0,-6.45,-6.9,-7.35,-7.95,-8.45]],[4380,[-5.8,-6.15,-6.6,-7.1,-7.55,-8.0,-8.7]],[4470,[-5.95,-6.3,-6.7,-7.15,-7.6,-8.15,-8.8]],[4628,[-9.31,-9.1,-6.1,-6.45,-6.9,-7.35,-7.85,-8.4]],[4720,[-6.25,-6.6,-7.0,-7.5,-7.95,-8.5,-9.0]],[4797,[-9.17,-6.4,-6.8,-7.2,-7.65,-8.1,-8.6]],[4900,[-6.55,-6.9,-7.3,-7.8,-8.25,-8.75,-9.2]],[5050,[-9.38,-6.75,-7.1,-7.55,-7.9,-8.35,-8.85]],[5170,[-6.9,-7.25,-7.7,-8.15,-8.55,-9.0,-9.35]],[5300,[-7.1,-7.45,-7.85,-8.25,-8.7,-9.15]],[5430,[-9.59,-7.25,-7.6,-8.05,-8.45,-8.85,-9.25]],[5642,[-9.38,-7.45,-7.75,-8.15,-8.55,-9.0,-9.5]],[5780,[-7.6,-7.95,-8.3,-8.7,-9.1,-9.45]],[5895,[-9.69,-7.75,-8.1,-8.5,-8.85,-9.25]],[6050,[-8.0,-8.3,-8.65,-9.0,-9.45,-9.8]],[6275,[-9.84,-8.2,-8.5,-8.85,-9.2,-9.55]],[6450,[-8.4,-8.7,-9.05,-9.4,-9.75,-10.0]],[6600,[-8.6,-8.85,-9.2,-9.55,-9.85]],[6782,[-10,-8.8,-9.1,-9.4,-9.7]],[6950,[-9.0,-9.3,-9.6,-9.9,-10.1]],[7120,[-10.16,-9.15,-9.4,-9.7,-9.95]],[7280,[-9.3,-9.55,-9.8,-10.05]],[7416,[-10.16,-9.45,-9.7,-9.95]],[7560,[-9.6,-9.85,-10.1,-10.3]],[7750,[-9.8,-10.0,-10.3]],[8100,[-10.0,-10.25,-10.55,-10.8]],[8300,[-10.15,-10.4,-10.7]],[8500,[-10.35,-10.6,-10.9]],[8700,[-10.55,-10.75,-11.1]],[8900,[-10.75,-10.95,-11.2]],[9100,[-10.95,-11.25]],[9300,[-11.15,-11.45]],[9500,[-11.4,-11.6]],[9750,[-11.7,-11.85]]
];
// second pass over the same plot, the crowded part close under the band
const grayColumnsDense = [
[300,[-.6,-.63]],[430,[-.74]],[560,[-.88,-.93]],[640,[-.97,-1.05]],[780,[-1.15,-1.5]],[900,[-1.28,-1.33]],[1130,[-1.55,-1.75]],[1250,[-1.7,-1.9,-2.2]],[1380,[-1.85,-2.05,-2.6]],[1500,[-2.0,-2.2]],[1650,[-2.2,-2.45,-2.7]],[1800,[-2.4,-2.6,-3.0]],[1950,[-2.55,-2.8,-3.15]],[2150,[-2.8,-3.05,-3.4]],[2380,[-3.05,-3.3,-3.55]],
[2520,[-3.33,-3.72,-4.12,-4.83,-5.62,-6.28]],[2650,[-3.52,-3.67,-4.55,-5.12,-6.6,-5.93]],[2770,[-3.48,-3.91,-4.07,-4.62,-5.34,-6.44]],[2830,[-3.78,-3.98,-4.37,-5.11,-5.72,-7.02]],[2970,[-3.94,-4.22,-4.31,-4.69,-5.27,-6.13,-6.77]],[3060,[-4.02,-4.09,-4.58,-5.09,-5.78,-6.33]],[3130,[-4.12,-4.41,-4.74,-5.52,-6.81]],[3200,[-4.16,-4.38,-4.81,-5.14,-5.63,-6.21,-7.14]],[3270,[-4.33,-4.62,-4.93,-5.48,-6.05,-7.41]],[3330,[-4.42,-4.57,-4.84,-5.37,-5.92,-6.74]],[3400,[-4.55,-4.72,-5.03,-5.44,-6.27,-7.08]],[3470,[-4.61,-4.79,-5.16,-5.59,-6.02,-6.67]],[3540,[-4.68,-4.88,-5.07,-5.67,-6.43,-7.29]],[3610,[-4.76,-4.93,-5.26,-5.72,-6.14,-6.96]],[3680,[-4.95,-5.02,-5.34,-5.81,-6.22,-7.56]],[3760,[-5.07,-5.12,-5.47,-5.95,-6.47,-7.03]],[3850,[-5.13,-5.23,-5.58,-6.01,-6.62,-7.18]],[3940,[-5.22,-5.31,-5.66,-6.12,-6.77,-7.44]],[4020,[-5.3,-5.44,-5.83,-6.28,-6.72,-7.38]],[4110,[-5.47,-5.53,-5.87,-6.33,-6.98,-7.62]],[4220,[-5.63,-5.66,-6.05,-6.52,-7.12,-7.71]],[4330,[-5.7,-5.77,-6.13,-6.58,-7.23,-8.14]],[4420,[-5.79,-5.88,-6.24,-6.77,-7.31,-7.92]],[4540,[-6.02,-6.11,-6.38,-6.84,-7.46,-8.03]],[4680,[-6.17,-6.29,-6.53,-7.04,-7.68,-8.27]],[4760,[-6.28,-6.41,-6.62,-7.13,-7.74,-8.32]],[4850,[-6.37,-6.51,-6.71,-7.26,-7.87,-8.46]],[4960,[-6.5,-6.64,-6.83,-7.37,-8.02,-8.63]],[5100,[-6.68,-6.79,-7.02,-7.48,-8.12,-8.71]],[5230,[-6.82,-6.97,-7.17,-7.62,-8.28,-8.92]],[5370,[-6.98,-7.14,-7.33,-7.78,-8.34,-9.06]],[5500,[-7.16,-7.32,-7.46,-7.93,-8.51,-9.12]],[5700,[-7.38,-7.52,-7.67,-8.08,-8.63,-9.22]],[5840,[-7.54,-7.71,-7.83,-8.22,-8.77,-9.33]],[5980,[-7.71,-7.86,-7.96,-8.37,-8.92,-9.41]],[6150,[-7.9,-8.05,-8.14,-8.53,-9.08,-9.62]],[6350,[-8.12,-8.24,-8.33,-8.72,-9.26,-9.71]],[6520,[-8.28,-8.41,-8.54,-8.88,-9.34,-9.93]],[6700,[-8.48,-8.6,-8.72,-9.03,-9.48]],[6860,[-8.64,-8.77,-8.89,-9.22,-9.63]],[7030,[-8.83,-8.97,-9.08,-9.37,-9.76]],[7200,[-9.02,-9.13,-9.24,-9.52,-9.88]],[7350,[-9.18,-9.28,-9.39,-9.62,-9.92]],[7480,[-9.33,-9.42,-9.53,-9.77]],[7620,[-9.49,-9.6,-9.68,-9.93]],[7800,[-9.71,-9.8,-9.88,-10.12]],[7980,[-9.92,-10.0,-10.08]],[8200,[-10.18,-10.27,-10.36]],[8400,[-10.39,-10.45,-10.52]],[8600,[-10.5,-10.6,-10.66]],[8800,[-10.72,-10.86]],[9000,[-10.97,-11.05]],[9200,[-11.2,-11.32]],[9400,[-11.43]],[9600,[-11.66]]
];

const popGreen = [[10001,-12.1],[10001,-12.02],[2287,-3.14],[2710,-3.75],[7686,-9.64],[7686,-10.13],[7931,-10.0],[7872,-9.85]];
const popOrange = [[7872,-10.4]];

// ---------------------------- page -----------------------------------

const width = 2930;
const height = 1590;
const uiFont = '"Liberation Sans", Arial, sans-serif';
const plotFont = '"DejaVu Sans", sans-serif';
const svg = d3.select('#chart').attr('width', width).attr('height', height);

const defs = svg.append('defs');
const titleGrad = defs.append('linearGradient').attr('id','titleGrad').attr('x1',0).attr('x2',0).attr('y1',0).attr('y2',1);
titleGrad.append('stop').attr('offset','0%').attr('stop-color','#ececec');
titleGrad.append('stop').attr('offset','100%').attr('stop-color','#d1d1d1');
const blue = defs.append('linearGradient').attr('id','blueGrad').attr('x1',0).attr('x2',0).attr('y1',0).attr('y2',1);
blue.append('stop').attr('offset','0%').attr('stop-color','#5a9bf8');
blue.append('stop').attr('offset','100%').attr('stop-color','#2f77f2');
defs.append('filter').attr('id','soft').attr('x','-5%').attr('y','-5%').attr('width','110%').attr('height','110%')
  .append('feGaussianBlur').attr('stdDeviation',0.55);

function box(g, x, y, w, h, fill, extra) {
  const r = g.append('rect').attr('x',x).attr('y',y).attr('width',w).attr('height',h).attr('fill',fill);
  if (extra && extra.rx) r.attr('rx',extra.rx);
  if (extra && extra.stroke) r.attr('stroke',extra.stroke).attr('stroke-width',extra.sw || 1);
  return r;
}
function label(g, x, y, t, size, anchor, font) {
  return g.append('text').attr('x',x).attr('y',y).attr('dy','.36em').text(t)
    .attr('font-family',font || uiFont).attr('font-size',size).attr('text-anchor',anchor || 'start').attr('fill','#111');
}
function button(g, x, y, w, h, t) {
  box(g, x, y+1.5, w, h, '#c2c2c2', {rx:10});
  box(g, x, y, w, h, '#ffffff', {rx:10});
  label(g, x+w/2, y+h/2-1, t, 26.8, 'middle');
}

const ui = svg.append('g').attr('id','ui');
box(ui, 0, 0, width, height, '#ffffff');

// title bar
box(ui, 0, 0, width, 49, 'url(#titleGrad)');
box(ui, 0, 48, width, 2, '#b4b4b4');
box(ui, 0, 50, width, 68, '#ececec');
[[24,'#ee6b5f'],[64,'#f6be4f'],[104,'#62c454']].forEach(d => {
  ui.append('circle').attr('cx',d[0]).attr('cy',22).attr('r',12).attr('fill',d[1]);
});
label(ui, 1493, 21, 'iSLAT v3.10.00', 28, 'middle').attr('font-weight','bold').attr('fill','#222');
box(ui, 0, 50, 1978, 6, '#848484');
box(ui, 0, 112, 1978, 6, '#848484');

// top row of buttons
topButtons.forEach((t,i) => {
  button(ui, 4 + i*288, 68, i === 6 ? 238 : 272, 40, t);
});

// toolbar icons
const tools = ui.append('g').attr('id','toolbar');
const toolX = [1987,2035,2083,2144,2188,2232,2295];
const toolW = [38,38,38,35,35,39,39];
const toolPaths = [
  'M19 5 L34 22 L30 22 L30 35 L23 35 L23 25 L15 25 L15 35 L8 35 L8 22 L4 22 Z',
  'M17 6 L19 6 L15 16 L33 16 L33 23 L15 23 L19 33 L17 33 L4 19.5 Z',
  'M21 6 L19 6 L23 16 L5 16 L5 23 L23 23 L19 33 L21 33 L34 19.5 Z',
  'M17.5 2 L22 9 L19 9 L19 18 L28 18 L28 15 L34 19.5 L28 24 L28 21 L19 21 L19 30 L22 30 L17.5 37 L13 30 L16 30 L16 21 L7 21 L7 24 L1 19.5 L7 15 L7 18 L16 18 L16 9 L13 9 Z',
  '',
  'M7 8 H32 V11 H7 Z M7 18 H32 V21 H7 Z M7 28 H32 V31 H7 Z M10 5 H15 V14 H10 Z M23 15 H28 V24 H23 Z M10 25 H15 V34 H10 Z',
  'M5 4 H28 L34 10 V35 H5 Z M9 8 V34 H30 V11 L27 8 Z M13 7 H25 V17 H13 Z M12 23 H27 V34 H12 Z M15 26 V32 H24 V26 Z'
];
toolX.forEach((x,i) => {
  const faded = i === 1 || i === 2;
  box(tools, x, 64, toolW[i], 39, 'none', {stroke: faded ? '#cfcfcf' : '#b0b0b0', sw:2});
  const ic = tools.append('g').attr('transform', `translate(${x},${64})`);
  if (toolPaths[i]) ic.append('path').attr('d',toolPaths[i]).attr('fill','#111').attr('fill-rule','evenodd');
  else {
    ic.append('circle').attr('cx',16).attr('cy',17).attr('r',11).attr('fill','none').attr('stroke','#111').attr('stroke-width',3.5);
    ic.append('line').attr('x1',23).attr('y1',25).attr('x2',32).attr('y2',38).attr('stroke','#111').attr('stroke-width',3.5);
  }
});
[2133,2284].forEach(x => box(tools, x-1, 66, 2, 36, '#bcbcbc'));

// molecule table
box(ui, 0, 118, 643, 464, '#ebebeb');
box(ui, 641, 120, 3, 462, '#8a8a8a');
box(ui, 0, 582, 645, 2, '#8a8a8a');
box(ui, 0, 586, 645, 2, '#8a8a8a');
[['Molecule',10],['Temp.',141],['Radius',234],['Col. Dens',330],['On',466]].forEach(d => label(ui, d[1], 147, d[0], 27.3));
const colX = [5.5,138,234,330];
const colW = [120.5,84,84,120];
moleculeRows.forEach((row,i) => {
  const y = 171 + i*56;
  colX.forEach((x,j) => {
    const id = `cell${i}_${j}`;
    defs.append('clipPath').attr('id',id).append('rect').attr('x',x).attr('y',y).attr('width',colW[j]).attr('height',45);
    box(ui, x, y+1.5, colW[j], 45, '#c4c4c4');
    box(ui, x, y, colW[j], 45, '#ffffff');
    label(ui, x+7, y+23, row[j], 27).attr('clip-path',`url(#${id})`);
  });
  const cy = y + 9;
  if (row[4]) {
    box(ui, 466, cy, 28, 28, 'url(#blueGrad)', {rx:6});
    ui.append('path').attr('d',`M472 ${cy+14} L478 ${cy+22} L488 ${cy+6}`).attr('fill','none').attr('stroke','#fff').attr('stroke-width',3.4);
  } else {
    box(ui, 466, cy, 28, 28, '#ffffff', {rx:6, stroke:'#d6d6d6', sw:1});
  }
});

// file boxes
box(ui, 0, 588, 645, 228, '#ececec');
box(ui, 641, 588, 3, 228, '#8a8a8a');
label(ui, 225, 614, 'Spectrum Data File:', 27.3, 'middle');
box(ui, 1, 636, 452, 53, '#ececec', {stroke:'#111', sw:2.5});
label(ui, 8, 660, 'CITau_MIRI_Banzatti+2023b.csv', 27.3);
button(ui, 462, 646, 172, 40, 'Open File');
label(ui, 225, 714, 'Saved Lines File:', 27.3, 'middle');
box(ui, 1, 736, 452, 53, '#ececec', {stroke:'#111', sw:2.5});
button(ui, 462, 746, 172, 40, 'Open File');
box(ui, 0, 816, 645, 3, '#9a9a9a');

// parameter entries
box(ui, 0, 821, 645, 455, '#ececec');
box(ui, 641, 821, 3, 279, '#8a8a8a');
paramRows.forEach((row,i) => {
  const y = 830 + i*56;
  label(ui, 70, y+25, row[0], 27.3, 'middle');
  label(ui, 392, y+25, row[2], 27.3, 'middle');
  if (i < 4) {
    box(ui, 151.5, y, 157, 44, '#d0d0d0');
    box(ui, 151.5, y+43, 157, 2, '#bdbdbd');
    label(ui, 159, y+22, row[1], 27);
  } else {
    box(ui, 154, y+1, 152, 40, '#ffffff', {rx:9});
    label(ui, 161, y+22, row[1], 27);
    box(ui, 270, y+5, 32, 32, 'url(#blueGrad)', {rx:6});
    ui.append('path').attr('d',`M279 ${y+18} L286 ${y+24} L293 ${y+18}`).attr('fill','none').attr('stroke','#fff').attr('stroke-width',3);
  }
  box(ui, 479, y, 157, 44, '#d0d0d0');
  box(ui, 479, y+43, 157, 2, '#bdbdbd');
  label(ui, 487, y+22, row[3], 27);
});
box(ui, 0, 1098, 151, 2, '#a8a8a8');
box(ui, 308, 1098, 166, 2, '#a8a8a8');

// line buttons
lineButtons.forEach((row,i) => {
  const y = 1114 + i*56;
  button(ui, 4, y, 290, 40, row[0]);
  button(ui, 310, y, 290, 40, row[1]);
});

// text console
box(ui, 0, 1276, 645, 314, '#ffffff');
box(ui, 0, 1276, 2, 314, '#e6e6e6');
consoleLines.forEach((t,i) => {
  ui.append('text').attr('x',4).attr('y',1290 + i*26).attr('dy','.36em').text(t)
    .attr('font-family','"DejaVu Sans Mono", monospace').attr('font-size',23.2).attr('fill','#111');
});

// ---------------------------- Spectrum, top plot -----------------------------------

const charts = svg.append('g').attr('id','charts');
const inkColor = '#0c0c0c';

function styleAxis(g, size) {
  g.selectAll('text').attr('font-family',plotFont).attr('font-size',size || 27).attr('fill',inkColor);
  g.selectAll('line').attr('stroke',inkColor).attr('stroke-width',2.2);
  g.select('.domain').remove();
}
function axisTitle(g, x, y, t, rotate) {
  const el = g.append('text').attr('text-anchor','middle').attr('dy','.36em')
    .attr('font-family',plotFont).attr('font-size',27.5).attr('fill',inkColor).text(t);
  if (rotate) el.attr('transform',`translate(${x},${y}) rotate(-90)`);
  else el.attr('x',x).attr('y',y);
  return el;
}

const sp = {left:786.5, right:2919, top:164.5, bottom:646.7};
const xSpec = d3.scaleLinear().domain([13.3981,15.4003]).range([sp.left, sp.right]);
const ySpec = d3.scaleLinear().domain([-.0062,.1445]).range([sp.bottom, sp.top]);
defs.append('clipPath').attr('id','specClip').append('rect')
  .attr('x',sp.left).attr('y',sp.top).attr('width',sp.right-sp.left).attr('height',sp.bottom-sp.top);

const specLine = d3.line().x(d => xSpec(d[0])).y(d => ySpec(d[1]));
const specArea = d3.area().x(d => xSpec(d[0])).y0(ySpec(0)).y1(d => ySpec(d[1]));
const specPlot = charts.append('g').attr('clip-path','url(#specClip)');

specPlot.append('path').datum(totalLine).attr('d',specArea).attr('fill','#d3d3d3')
  .attr('stroke','#d3d3d3').attr('stroke-width',4).attr('stroke-linejoin','round');
specPlot.append('path').datum(dataLine).attr('d',specLine).attr('fill','none').attr('stroke','#0a0a0a').attr('stroke-width',3).attr('stroke-linejoin','round');
[h2oLine,ohLine,hcnLine,c2h2Line,co2Line].forEach((series,i) => {
  specPlot.append('path').datum(series).attr('d',specLine).attr('fill','none')
    .attr('stroke',legendColors[i+1]).attr('stroke-width',6.8).attr('stroke-dasharray','20 8').attr('stroke-linejoin','round');
});
specPlot.append('rect').attr('x',xSpec(selectedRange[0])).attr('y',sp.top)
  .attr('width',xSpec(selectedRange[1])-xSpec(selectedRange[0])).attr('height',sp.bottom-sp.top)
  .attr('fill','#3fee12').attr('fill-opacity',.48).attr('stroke','#6ff04f').attr('stroke-width',4);

charts.append('rect').attr('x',sp.left).attr('y',sp.top).attr('width',sp.right-sp.left).attr('height',sp.bottom-sp.top)
  .attr('fill','none').attr('stroke',inkColor).attr('stroke-width',2.6);

const specX = charts.append('g').attr('transform',`translate(0,${sp.bottom})`)
  .call(d3.axisBottom(xSpec).tickValues(spectrumXTicks).tickFormat(d3.format('.2f')).tickSize(10).tickPadding(10));
styleAxis(specX);
const specY = charts.append('g').attr('transform',`translate(${sp.left},0)`)
  .call(d3.axisLeft(ySpec).tickValues(spectrumYTicks).tickFormat(d3.format('.2f')).tickSize(10).tickPadding(10));
styleAxis(specY);
axisTitle(charts, 1851.5, 716, 'Wavelength (μm)');
axisTitle(charts, 677, 406, 'Flux density (Jy)', true);

// legend
const leg = charts.append('g');
leg.append('rect').attr('x',2729.5).attr('y',178.7).attr('width',175).attr('height',257.3).attr('rx',4)
  .attr('fill','#fff').attr('fill-opacity',.8).attr('stroke','#cfcfcf').attr('stroke-width',2);
legendNames.forEach((t,i) => {
  const y = 201 + i*42;
  leg.append('line').attr('x1',2741).attr('x2',2796).attr('y1',y).attr('y2',y)
    .attr('stroke',legendColors[i]).attr('stroke-width',i === 0 ? 2.8 : 5.8).attr('stroke-dasharray',i === 0 ? null : '22 7');
  leg.append('text').attr('x',2819).attr('y',y).attr('dy','.36em').text(t)
    .attr('font-family',plotFont).attr('font-size',26.5).attr('fill',inkColor);
});

// ---------------------------- Selected range, lower left -----------------------------------

const lo = {left:787, right:1755, top:740, bottom:1488.6};
const xZoom = d3.scaleLinear().domain([15.16-(882.5-787)/27533,15.16+(1755-882.5)/27533]).range([lo.left, lo.right]);
const yZoom = d3.scaleLinear().domain([0,.12]).range([lo.bottom, 812.3]);
const zoomPlot = charts.append('g');
const zoomLine = d3.line().x(d => xZoom(d[0])).y(d => yZoom(d[1]));

const green = '#2e7d14';
lineWave.forEach((w,i) => {
  zoomPlot.append('line').attr('x1',xZoom(w)).attr('x2',xZoom(w)).attr('y1',yZoom(0)).attr('y2',yZoom(lineTop[i]))
    .attr('stroke',green).attr('stroke-width',3.2).attr('stroke-dasharray','12 5');
  if (lineLabel[i]) {
    zoomPlot.append('text').attr('x',xZoom(w)+2).attr('y',yZoom(lineTop[i])).text(lineLabel[i])
      .attr('font-family',plotFont).attr('font-size',22.9).attr('fill','#358a20');
  }
});
zoomPlot.append('line').attr('x1',xZoom(orangeWave)).attr('x2',xZoom(orangeWave)).attr('y1',yZoom(0)).attr('y2',yZoom(orangeTop))
  .attr('stroke','#f5a83c').attr('stroke-width',3.2).attr('stroke-dasharray','12 5');
zoomPlot.append('text').attr('x',xZoom(orangeWave)+2).attr('y',yZoom(orangeTop)).text(orangeLabel)
  .attr('font-family',plotFont).attr('font-size',22.9).attr('fill','#f5a83c');

zoomPlot.append('path').datum(zoomModel).attr('d',zoomLine).attr('fill','none')
  .attr('stroke','#4291f7').attr('stroke-width',8).attr('stroke-dasharray','31 12');
zoomPlot.append('path').datum(zoomData).attr('d',zoomLine).attr('fill','none')
  .attr('stroke','#0a0a0a').attr('stroke-width',2.8);

const zoomX = charts.append('g').attr('transform',`translate(0,${lo.bottom})`)
  .call(d3.axisBottom(xZoom).tickValues(zoomXTicks).tickFormat(d3.format('.3f')).tickSize(11).tickPadding(10));
styleAxis(zoomX);
const zoomY = charts.append('g').attr('transform',`translate(${lo.left},0)`)
  .call(d3.axisLeft(yZoom).tickValues(zoomYTicks).tickFormat(d3.format('.2f')).tickSize(11).tickPadding(10));
styleAxis(zoomY);
zoomY.selectAll('text').attr('dy','.42em');
axisTitle(charts, 1269, 1561, 'Wavelength (μm)');
axisTitle(charts, 676, 1128, 'Flux density (Jy)', true);

// ---------------------------- Population diagram, lower right -----------------------------------

const po = {left:1951, right:2920.6, bottom:1489.7};
const xPop = d3.scaleLinear().domain([19,11386]).range([po.left, po.right]);
const yPop = d3.scaleLinear().domain([0,-12]).range([768.4,1404.2]);
const popPlot = charts.append('g');
const grayDot = '#8c9795';

popPlot.append('path').datum(d3.range(bandEu.length))
  .attr('d', d3.area().x(i => xPop(bandEu[i])).y0(i => yPop(bandBottom[i])).y1(i => yPop(bandTop[i])))
  .attr('fill',grayDot).attr('stroke',grayDot).attr('stroke-width',3);
grayColumns.concat(grayColumnsDense).forEach(col => {
  col[1].forEach(v => {
    popPlot.append('circle').attr('cx',xPop(col[0])).attr('cy',yPop(v)).attr('r',2.7).attr('fill',grayDot);
  });
});
popGreen.forEach(d => {
  popPlot.append('circle').attr('cx',xPop(d[0])).attr('cy',yPop(d[1])).attr('r',7.6)
    .attr('fill','#338018').attr('stroke','#0a0a0a').attr('stroke-width',2.4);
});
popOrange.forEach(d => {
  popPlot.append('circle').attr('cx',xPop(d[0])).attr('cy',yPop(d[1])).attr('r',7.6)
    .attr('fill','#f5a83c').attr('stroke','#0a0a0a').attr('stroke-width',2.4);
});

const popX = charts.append('g').attr('transform',`translate(0,${po.bottom})`)
  .call(d3.axisBottom(xPop).tickValues(popXTicks).tickFormat(d3.format('d')).tickSize(11).tickPadding(9));
styleAxis(popX);
const popY = charts.append('g').attr('transform',`translate(${po.left},0)`)
  .call(d3.axisLeft(yPop).tickValues(popYTicks).tickFormat(d => String(d).replace('-','\u2212')).tickSize(11).tickPadding(10));
styleAxis(popY);

const eu = charts.append('text').attr('x',2433).attr('y',1564).attr('dy','.36em').attr('text-anchor','middle')
  .attr('font-family',plotFont).attr('font-size',27).attr('fill',inkColor);
eu.append('tspan').attr('font-style','italic').text('E');
eu.append('tspan').attr('font-style','italic').attr('font-size',19).attr('dy',6).text('u');
eu.append('tspan').attr('dy',-6).text(' (K)');

const yl = charts.append('text').attr('transform','translate(1837.5,1128) rotate(-90)').attr('dy','.36em').attr('text-anchor','middle')
  .attr('font-family',plotFont).attr('font-size',28).attr('fill',inkColor);
yl.append('tspan').text('ln(4πF/(hν');
yl.append('tspan').attr('font-style','italic').text('A');
yl.append('tspan').attr('font-style','italic').attr('font-size',19.5).attr('dy',6).text('u');
yl.append('tspan').attr('font-style','italic').attr('dy',-6).text('g');
yl.append('tspan').attr('font-style','italic').attr('font-size',19.5).attr('dy',6).text('u');
yl.append('tspan').attr('dy',-6).text('))');

charts.attr('filter','url(#soft)');
</script>
</body>
</html>
